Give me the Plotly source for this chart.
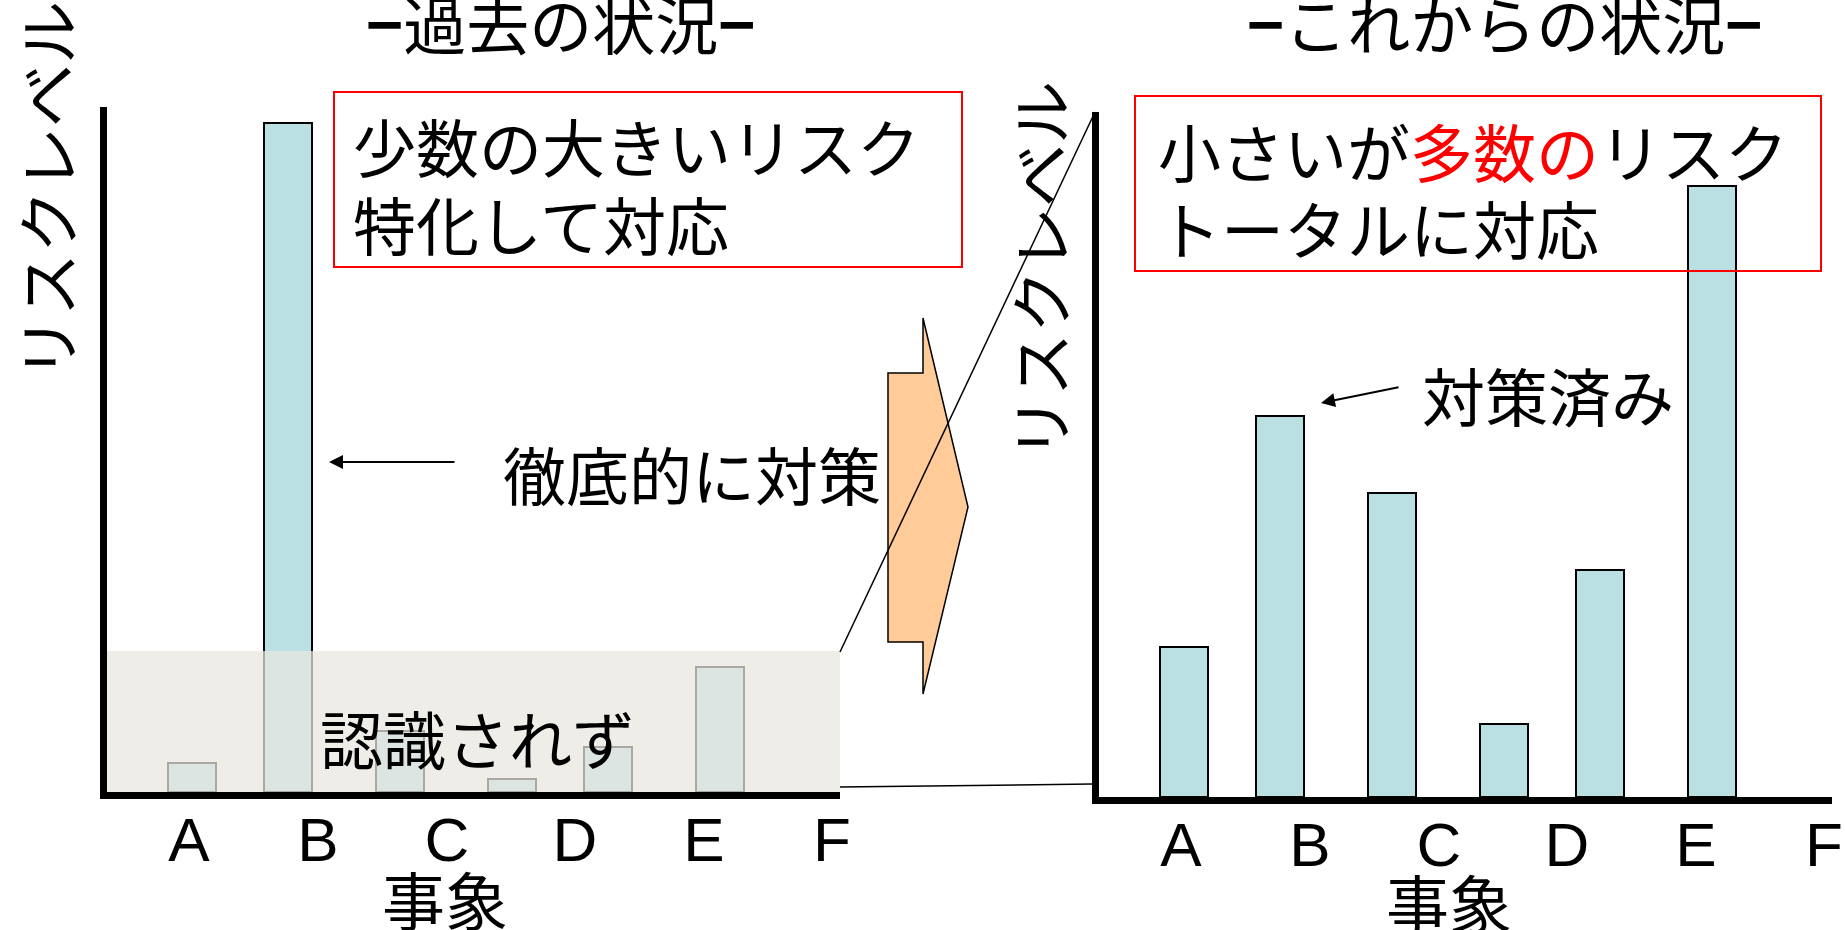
import plotly.graph_objects as go

W, H = 1845, 930

# --- data -------------------------------------------------------------
categories = ["A", "B", "C", "D", "E", "F"]
past_risk = [0.42, 9.77, 0.89, 0.19, 0.66, 1.82]      # 過去の状況
future_risk = [2.19, 5.56, 4.44, 1.07, 3.32, 8.92]    # これからの状況

# --- layout helpers ------------------------------------------------------
BAR_POS = [85, 181, 293, 405, 501, 613]     # bar centres along each x axis
TICK_POS = [82, 211, 340, 468, 597, 725]    # label positions A..F
X_RANGE = [0, 733]
Y_RANGE = [0, 10]
BAR_FILL = "#BBE0E3"
CJK = "Noto Sans CJK JP"
FS = 63


def px(x):
    return x / W


def py(y):
    return 1 - y / H


fig = go.Figure()

for vals, xa, ya in [(past_risk, "x", "y"), (future_risk, "x2", "y2")]:
    fig.add_trace(go.Bar(
        x=BAR_POS, y=vals, width=48,
        marker=dict(color=BAR_FILL, line=dict(color="black", width=2)),
        xaxis=xa, yaxis=ya, showlegend=False, hoverinfo="skip",
    ))

xcommon = dict(range=X_RANGE, tickvals=TICK_POS, ticktext=categories,
               tickfont=dict(family="Liberation Sans", size=62, color="black"),
               ticks="", ticklabelstandoff=-12, showgrid=False, zeroline=False,
               showline=True, linewidth=7, linecolor="black", fixedrange=True,
               automargin=False)
ycommon = dict(range=Y_RANGE, showticklabels=False, ticks="", showgrid=False,
               zeroline=False, showline=True, linewidth=7, linecolor="black",
               fixedrange=True, automargin=False)

fig.update_layout(
    template="none",
    width=W, height=H, autosize=False,
    margin=dict(l=0, r=0, t=0, b=0, pad=0),
    paper_bgcolor="white", plot_bgcolor="white",
    xaxis=dict(domain=[px(107), px(840)], anchor="y", **xcommon),
    yaxis=dict(domain=[py(792), py(107)], anchor="x", **ycommon),
    xaxis2=dict(domain=[px(1099), px(1832)], anchor="y2", **xcommon),
    yaxis2=dict(domain=[py(797), py(112)], anchor="x2", **ycommon),
    bargap=0,
)

shapes = []
# unrecognised-risk band over the low part of the past chart
shapes.append(dict(type="rect", xref="x", yref="y", x0=X_RANGE[0], x1=X_RANGE[1],
                   y0=0, y1=2.06, line=dict(width=0),
                   fillcolor="rgba(232,230,224,0.73)", layer="above"))
# red framed comment boxes
for x0, y0, x1, y1 in [(334, 92, 962, 267), (1135, 96, 1821, 271)]:
    shapes.append(dict(type="rect", xref="paper", yref="paper",
                       x0=px(x0), x1=px(x1), y0=py(y1), y1=py(y0),
                       line=dict(color="#FF0000", width=2), layer="above"))
# block arrow between the two charts
arrow_pts = [(888, 373), (923, 373), (923, 318), (968, 507),
             (923, 694), (923, 642), (888, 642)]
path = "M " + " L ".join(f"{px(x):.5f},{py(y):.5f}" for x, y in arrow_pts) + " Z"
shapes.append(dict(type="path", xref="paper", yref="paper", path=path,
                   fillcolor="#FFCC99", line=dict(color="black", width=1.5),
                   layer="above"))
# zoom lines from the band to the new chart
for (x0, y0), (x1, y1) in [((840, 652), (1095, 112)), ((840, 787), (1092, 784))]:
    shapes.append(dict(type="line", xref="paper", yref="paper",
                       x0=px(x0), y0=py(y0), x1=px(x1), y1=py(y1),
                       line=dict(color="black", width=1.5), layer="above"))
fig.update_layout(shapes=shapes)

ann = []


def text(t, x, y, size=FS, xanchor="center", angle=0):
    ann.append(dict(text=t, x=px(x), y=py(y), xref="paper", yref="paper",
                    xanchor=xanchor, yanchor="middle", showarrow=False,
                    textangle=angle,
                    font=dict(family=CJK, size=size, color="black")))


DASH = "<b>−</b>"
text(f"{DASH}過去の状況{DASH}", 560, 21)
text(f"{DASH}これからの状況{DASH}", 1504, 21)
text("少数の大きいリスク", 351, 145, xanchor="left")
text("特化して対応", 351, 222, xanchor="left")
text('小さいが<span style="color:#FF0000">多数の</span>リスク', 1156, 150, xanchor="left")
text("トータルに対応", 1156, 226, xanchor="left")
text("徹底的に対策", 692, 472)
text("対策済み", 1548, 393)
text("認識されず", 477, 736)
text("事象", 445, 897)
text("事象", 1449, 900)
text("リスクレベル", 44, 190, angle=-90)
text("リスクレベル", 1038, 270, angle=-90)

# pointer arrows
for (tx, ty), (sx, sy) in [((329, 462), (456, 462)), ((1321, 403), (1400, 387))]:
    ann.append(dict(text="", x=px(tx), y=py(ty), xref="paper", yref="paper",
                    ax=sx - tx, ay=sy - ty, showarrow=True, arrowhead=2,
                    arrowsize=1.4, arrowwidth=2, arrowcolor="black"))

fig.update_layout(annotations=ann)

fig.write_html("out.html", config={"responsive": False})
